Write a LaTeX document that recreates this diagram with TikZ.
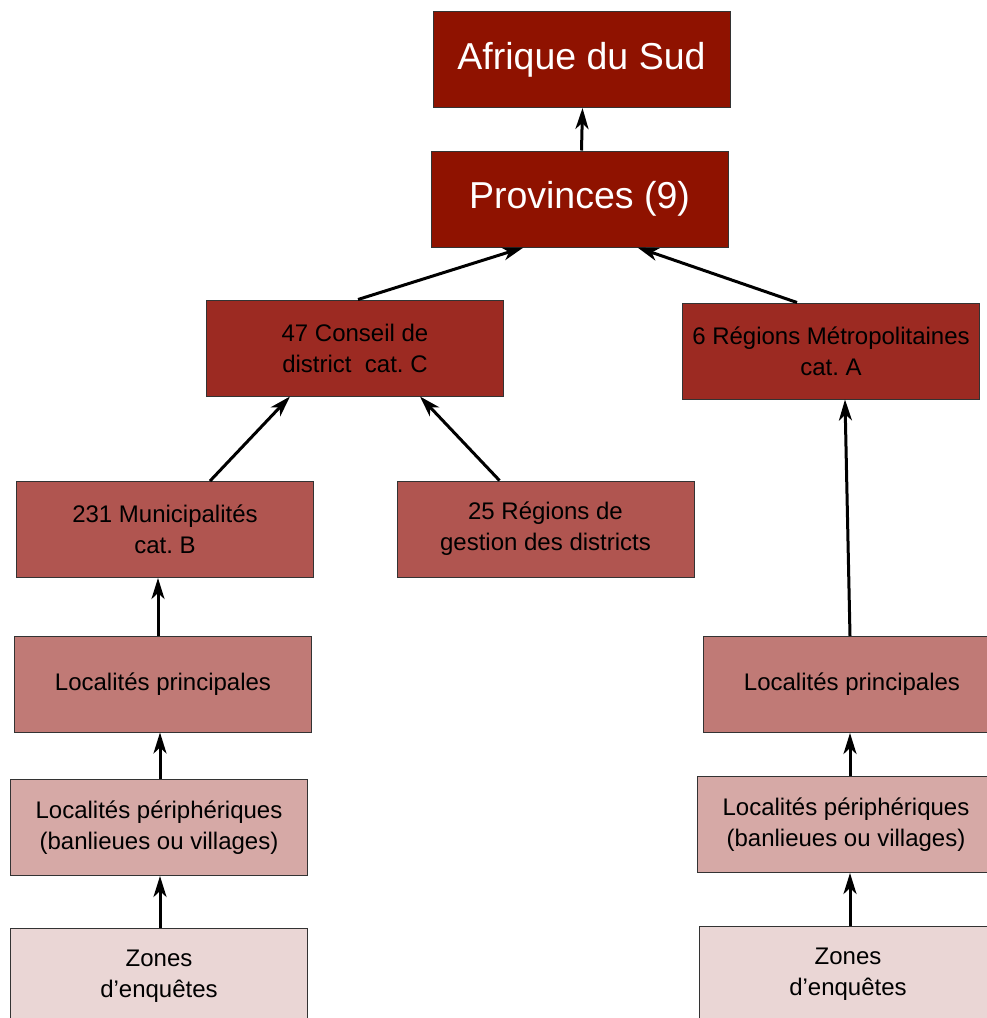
\documentclass[tikz,border=0pt]{standalone}
\usepackage{fontspec}
\setmainfont{Liberation Sans}
\usepackage{xcolor}
\usetikzlibrary{arrows.meta}
\frenchspacing

\definecolor{niv1}{HTML}{8F1200}
\definecolor{niv2}{HTML}{9C2A22}
\definecolor{niv3}{HTML}{B05550}
\definecolor{niv4}{HTML}{C07A76}
\definecolor{niv5}{HTML}{D6A9A6}
\definecolor{niv6}{HTML}{EAD6D5}

\tikzset{
  boite/.style={draw=black!80,line width=1pt,minimum width=297pt,minimum height=96pt,
    align=center,inner sep=0pt,font=\fontsize{24}{31}\selectfont},
  grand/.style={boite,text=white,font=\fontsize{37.5}{44}\selectfont},
  fleche/.style={line width=3pt,-{Stealth[length=21pt,width=13pt,inset=6pt]}}
}

\begin{document}
\begin{tikzpicture}[x=1pt,y=-1pt]
        \useasboundingbox (0,0) rectangle (987,1018);
        \node[grand,fill=niv1] (afrique) at (581.5,59.5) {Afrique du Sud};
        \node[grand,fill=niv1] (prov) at (579.5,199) {Provinces (9)};
        \node[boite,fill=niv2] (conseil) at (355,348) {47 Conseil de\\district\ \ cat. C};
        \node[boite,fill=niv2] (metro) at (831,351) {6 Régions Métropolitaines\\cat. A};
        \node[boite,fill=niv3] (munic) at (165,529.5) {231 Municipalités\\cat. B};
        \node[boite,fill=niv3] (gestion) at (545.5,529) {25 Régions de\\gestion des districts};
        \node[boite,fill=niv4] (princg) at (163,684) {Localités principales};
        \node[boite,fill=niv4] (princd) at (852,684.5) {Localités principales};
        \node[boite,fill=niv5] (periphg) at (159,827.5) {Localités périphériques\\(banlieues ou villages)};
        \node[boite,fill=niv5] (periphd) at (846,824.5) {Localités périphériques\\(banlieues ou villages)};
        \node[boite,fill=niv6] (zonesg) at (159,976) {Zones\\d’enquêtes};
        \node[boite,fill=niv6] (zonesd) at (848,974) {Zones\\d’enquêtes};

        \draw[fleche] ([xshift=2pt]prov.north) -- ([xshift=1pt]afrique.south);
        \draw[fleche] ([xshift=3pt]conseil.north) -- ([xshift=-56pt]prov.south);
        \draw[fleche] ([xshift=-34pt]metro.north) -- ([xshift=58pt]prov.south);
        \draw[fleche] ([xshift=45pt]munic.north) -- ([xshift=-65pt]conseil.south);
        \draw[fleche] ([xshift=-46pt]gestion.north) -- ([xshift=65pt]conseil.south);
        \draw[fleche] ([xshift=-5pt]princg.north) -- ([xshift=-7pt]munic.south);
        \draw[fleche] ([xshift=-2pt]princd.north) -- ([xshift=14pt]metro.south);
        \draw[fleche] ([xshift=1pt]periphg.north) -- ([xshift=-3pt]princg.south);
        \draw[fleche] ([xshift=4pt]periphd.north) -- ([xshift=-2pt]princd.south);
        \draw[fleche] ([xshift=1pt]zonesg.north) -- ([xshift=1pt]periphg.south);
        \draw[fleche] ([xshift=2pt]zonesd.north) -- ([xshift=4pt]periphd.south);
    \end{tikzpicture}
\end{document}
